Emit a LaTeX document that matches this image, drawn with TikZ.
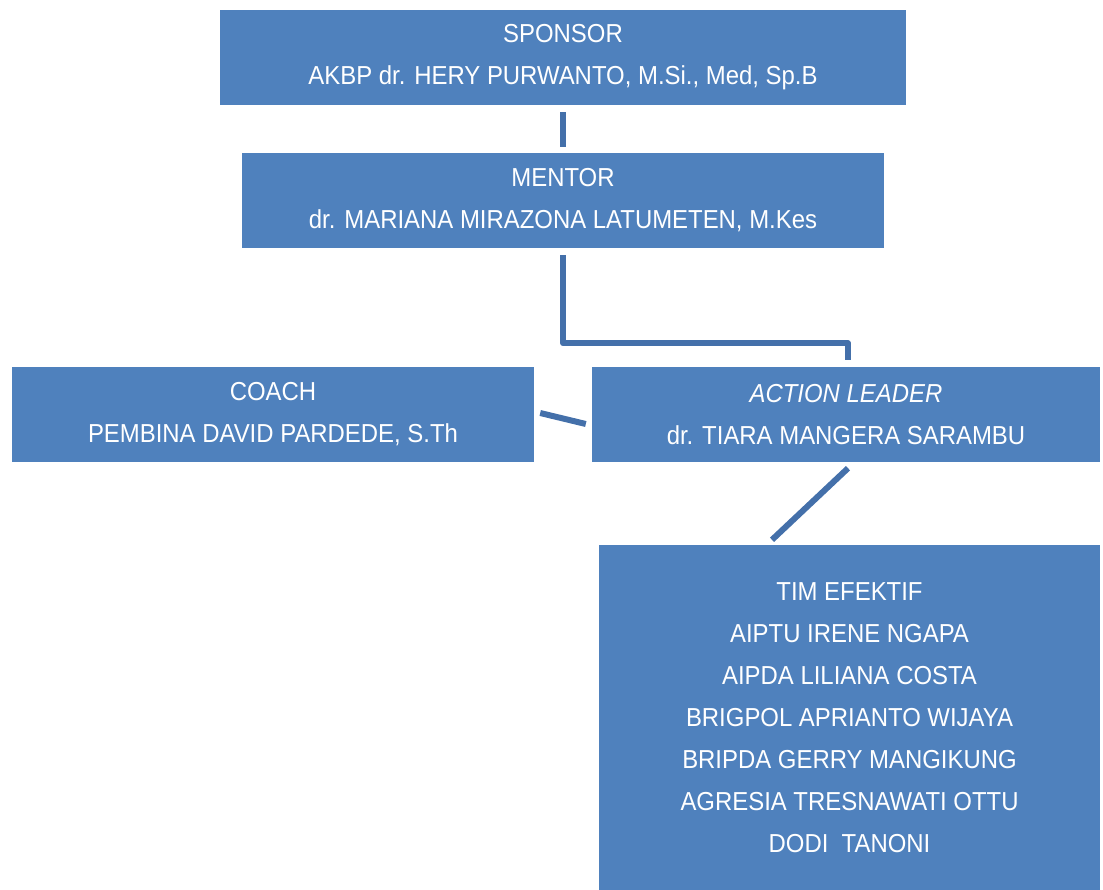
\documentclass[tikz,border=0pt]{standalone}
\usepackage{fontspec}
\setmainfont{Liberation Sans}[FakeStretch=0.92]
\usetikzlibrary{calc}
\definecolor{boxfill}{HTML}{4F81BD}
\definecolor{linkc}{HTML}{4470AA}
\begin{document}
\begin{tikzpicture}[x=1pt,y=-1pt,
  orgbox/.style={fill=boxfill,draw=none,text=white,align=center,font=\fontsize{26}{42}\selectfont,inner sep=0pt},
  link/.style={draw=linkc,line width=6pt,line join=round}]
\useasboundingbox (0,0) rectangle (1103,890);
\node[orgbox,minimum width=686pt,minimum height=95pt] (sponsor) at (563,57.5) {SPONSOR\\AKBP dr. HERY PURWANTO, M.Si., Med, Sp.B};
\node[orgbox,minimum width=642pt,minimum height=95pt] (mentor) at (563,200.5) {MENTOR\\dr. MARIANA MIRAZONA LATUMETEN, M.Kes};
\node[orgbox,minimum width=522pt,minimum height=95pt] (coach) at (273,414.5) {COACH\\PEMBINA DAVID PARDEDE, S.Th};
\node[orgbox,minimum width=508pt,minimum height=95pt] (leader) at (846,414.5) {\textit{ACTION LEADER}\\dr. TIARA MANGERA SARAMBU};
\node[orgbox,minimum width=501pt,minimum height=345pt] (tim) at (849.5,717.5) {TIM EFEKTIF\\AIPTU IRENE NGAPA\\AIPDA LILIANA COSTA\\BRIGPOL APRIANTO WIJAYA\\BRIPDA GERRY MANGIKUNG\\AGRESIA TRESNAWATI OTTU\\DODI\ \ TANONI};
\draw[link] ($(sponsor.south)+(0,7)$) -- ($(mentor.north)+(0,-6)$);
\draw[link] ($(mentor.south)+(0,7)$) -- ($(mentor.south)+(0,95)$) -| ($(leader.north)+(2,-7)$);
\draw[link] ($(coach.east)+(6,-1.5)$) -- ($(leader.west)+(-6,9.5)$);
\draw[link] ($(leader.south)+(2,6)$) -- ($(tim.north)+(-77.5,-5)$);
\end{tikzpicture}
\end{document}
